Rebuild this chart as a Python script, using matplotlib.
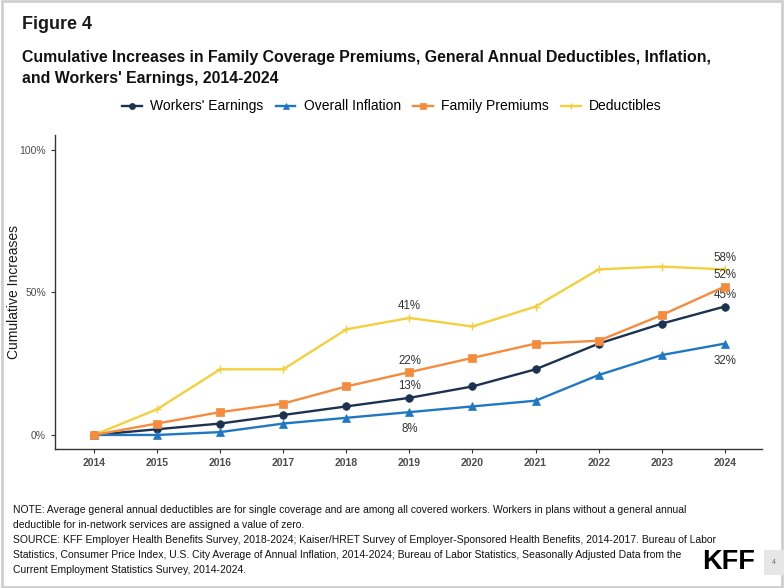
import matplotlib
matplotlib.use('Agg')
import matplotlib.pyplot as plt
from matplotlib.patches import Rectangle

plt.rcParams['font.family'] = ['Liberation Sans', 'DejaVu Sans']

# ── Data ──────────────────────────────────────────────────────────────────────
years = [2014, 2015, 2016, 2017, 2018, 2019, 2020, 2021, 2022, 2023, 2024]
earnings = [0, 2, 4, 7, 10, 13, 17, 23, 32, 39, 45]
inflation = [0, 0, 1, 4, 6, 8, 10, 12, 21, 28, 32]
premiums = [0, 4, 8, 11, 17, 22, 27, 32, 33, 42, 52]
deductibles = [0, 9, 23, 23, 37, 41, 38, 45, 58, 59, 58]

series_names = ["Workers' Earnings", 'Overall Inflation', 'Family Premiums', 'Deductibles']
series_vals = [earnings, inflation, premiums, deductibles]
colors = ['#1b3350', '#1f78c1', '#f58b3c', '#f2d03e']
markers = ['o', '^', 's', '+']

label_years = [2019, 2024]
label_below = {1}   # inflation labels go under the point

# ── Figure ───────────────────────────────────────────────────────────────────
fig = plt.figure(figsize=(7.84, 5.88), dpi=100)
fig.patches.append(Rectangle((0.002, 0.002), 0.996, 0.996, transform=fig.transFigure,
                             fill=False, edgecolor='#cfcfcf', linewidth=2))

ax = fig.add_axes([0.070, 0.236, 0.902, 0.534])

for i, (name, vals) in enumerate(zip(series_names, series_vals)):
    plus = markers[i] == '+'
    ax.plot(years, vals, color=colors[i], marker=markers[i], markersize=6 if plus else 5.5,
            linewidth=1.7, label=name, zorder=2 if plus else 3,
            markeredgewidth=1 if plus else 0.5)
    for yr in label_years:
        v = vals[years.index(yr)]
        if i in label_below:
            ax.annotate(f'{v}%', (yr, v), xytext=(0, -8), textcoords='offset points',
                        ha='center', va='top', fontsize=8.3, color='#333333')
        else:
            ax.annotate(f'{v}%', (yr, v), xytext=(0, 4), textcoords='offset points',
                        ha='center', va='bottom', fontsize=8.3, color='#333333')

ax.set_xlim(2013.38, 2024.59)
ax.set_ylim(-5, 105)
ax.set_xticks(years)
ax.set_xticklabels([str(y) for y in years], fontweight='bold', color='#4d4d4d', fontsize=7.5)
ax.set_yticks([0, 50, 100])
ax.set_yticklabels(['0%', '50%', '100%'], color='#4d4d4d', fontsize=7.5)
ax.tick_params(axis='both', length=3, width=0.8, color='#333333')
ax.set_ylabel('Cumulative Increases', fontsize=10, color='#1a1a1a')
ax.yaxis.set_label_coords(-0.048, 0.5)
for s in ['top', 'right']:
    ax.spines[s].set_visible(False)
for s in ['left', 'bottom']:
    ax.spines[s].set_color('#333333')
    ax.spines[s].set_linewidth(1)

fig.legend(loc='center', bbox_to_anchor=(0.5, 0.819), ncol=4, frameon=False,
           fontsize=10, handlelength=1.4, columnspacing=0.9, handletextpad=0.6,
           markerscale=0.8)

# ── Titles and notes ─────────────────────────────────────────────────────────
fig.text(0.028, 0.958, 'Figure 4', fontsize=13, fontweight='bold', va='center', color='#1a1a1a')
fig.text(0.028, 0.903, 'Cumulative Increases in Family Coverage Premiums, General Annual Deductibles, Inflation,',
         fontsize=11.4, fontweight='bold', va='center', color='#111111')
fig.text(0.028, 0.866, "and Workers' Earnings, 2014-2024",
         fontsize=11.4, fontweight='bold', va='center', color='#111111')

notes = [
    'NOTE: Average general annual deductibles are for single coverage and are among all covered workers. Workers in plans without a general annual',
    'deductible for in-network services are assigned a value of zero.',
    'SOURCE: KFF Employer Health Benefits Survey, 2018-2024; Kaiser/HRET Survey of Employer-Sponsored Health Benefits, 2014-2017. Bureau of Labor',
    'Statistics, Consumer Price Index, U.S. City Average of Annual Inflation, 2014-2024; Bureau of Labor Statistics, Seasonally Adjusted Data from the',
    'Current Employment Statistics Survey, 2014-2024.',
]
for k, line in enumerate(notes):
    fig.text(0.017, 1 - (510 + k * 15) / 588, line, fontsize=7.5, va='center', color='#111111')

fig.text(0.896, 1 - 562 / 588, 'KFF', fontsize=19.5, fontweight='bold', va='center', color='black')
fig.patches.append(Rectangle((0.975, 1 - 575 / 588), 0.025, 25 / 588, transform=fig.transFigure,
                             facecolor='#e6e6e6', edgecolor='none'))
fig.text(0.9875, 1 - 562 / 588, '4', fontsize=5, ha='center', va='center', color='#666666')

fig.savefig('out.png', dpi=100)
